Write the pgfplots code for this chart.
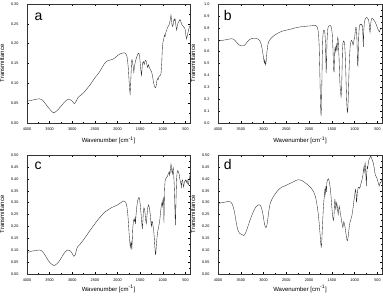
\documentclass[border=0pt]{standalone}
\usepackage{fontspec}
\setmainfont{Liberation Sans}
\usepackage{pgfplots}
\pgfplotsset{compat=1.18}
\tikzset{plab/.style={font=\fontsize{14}{14}\selectfont, anchor=base west, inner sep=0pt}}
\pgfplotsset{
  spec/.style={black!85, line width=0.35pt, mark=none},
  ftir/.style={
    scale only axis,
    height=119pt,
    x dir=reverse,
    xmin=400, xmax=4000,
    xtick={500,1000,...,4000},
    minor x tick num=1,
    minor y tick num=1,
    tick align=inside,
    major tick length=2.2pt,
    minor tick length=1.3pt,
    every tick/.style={black, line width=0.35pt},
    axis line style={line width=0.45pt, black!80},
    tick label style={font=\fontsize{3.8}{4}\selectfont},
    /pgf/number format/assume math mode=true,
    xticklabel style={/pgf/number format/1000 sep={}, yshift=-1.5pt},
    yticklabel style={/pgf/number format/fixed, /pgf/number format/fixed zerofill, xshift=-5pt},
    label style={font=\fontsize{6}{6}\selectfont},
    xlabel={Wavenumber [cm\textsuperscript{-1}]},
    ylabel={Transmittance},
    xlabel style={at={(axis description cs:0.5,-0.088)}, anchor=north},
    ylabel style={at={(axis description cs:-0.118,0.5)}, anchor=south},
  },
  lowrow/.style={xlabel style={at={(axis description cs:0.5,-0.086)}, anchor=north, inner sep=1pt}},
}
\begin{document}
\begin{tikzpicture}
\useasboundingbox (0,0) rectangle (383pt,295pt);
% ---------------- a ----------------
\begin{axis}[ftir, at={(27pt,172pt)}, anchor=south west, width=163pt,
  ymin=0, ymax=0.30, ytick={0,0.05,...,0.301},
  yticklabel style={/pgf/number format/precision=2}]
\addplot[spec] coordinates {
(4000,0.055) (3900,0.057) (3800,0.060) (3720,0.061) (3660,0.058) (3600,0.050) (3550,0.042) (3500,0.035) (3450,0.029) (3420,0.026) (3380,0.027) (3320,0.033) (3250,0.042) (3180,0.052) (3120,0.058) (3090,0.060) (3050,0.059) (3000,0.055) (2960,0.049) (2940,0.050) (2910,0.056) (2880,0.063) (2840,0.068) (2800,0.071) (2760,0.075) (2700,0.083) (2650,0.090) (2600,0.097) (2550,0.106) (2500,0.114) (2450,0.121) (2400,0.129) (2350,0.138) (2300,0.148) (2250,0.155) (2200,0.158) (2150,0.159) (2100,0.161) (2050,0.165) (2000,0.170) (1950,0.174) (1900,0.176) (1860,0.177) (1830,0.176) (1800,0.171) (1780,0.160) (1760,0.135) (1745,0.105) (1730,0.080) (1722,0.074) (1712,0.095) (1700,0.130) (1690,0.155) (1680,0.160) (1665,0.150) (1650,0.138) (1640,0.128) (1630,0.140) (1615,0.150) (1600,0.158) (1580,0.165) (1560,0.172) (1540,0.176) (1525,0.175) (1510,0.165) (1495,0.145) (1480,0.128) (1470,0.120) (1460,0.135) (1450,0.150) (1430,0.155) (1410,0.148) (1395,0.155) (1380,0.158) (1365,0.155) (1350,0.145) (1335,0.140) (1320,0.147) (1305,0.142) (1290,0.138) (1270,0.133) (1250,0.130) (1230,0.120) (1210,0.105) (1190,0.095) (1175,0.090) (1160,0.089) (1145,0.095) (1130,0.108) (1115,0.112) (1100,0.110) (1090,0.116) (1075,0.118) (1060,0.120) (1040,0.124) (1025,0.150) (1010,0.190) (995,0.205) (980,0.212) (965,0.222) (950,0.218) (935,0.228) (915,0.234) (900,0.240) (880,0.244) (860,0.248) (845,0.255) (830,0.265) (820,0.272) (810,0.262) (800,0.250) (790,0.245) (780,0.243) (770,0.250) (760,0.258) (750,0.262) (740,0.258) (730,0.262) (720,0.255) (705,0.240) (693,0.234) (680,0.245) (665,0.252) (650,0.255) (635,0.258) (620,0.261) (600,0.255) (580,0.248) (560,0.245) (540,0.242) (520,0.240) (505,0.235) (490,0.220) (475,0.212) (460,0.220) (445,0.228) (430,0.235) (415,0.242) (400,0.245)
};
\node[plab] at (rel axis cs:0.045,0.865) {a};
\end{axis}
% ---------------- b ----------------
\begin{axis}[ftir, at={(218pt,172pt)}, anchor=south west, width=164pt,
  ymin=0, ymax=1.0, ytick={0,0.1,...,1.01},
  yticklabel style={/pgf/number format/precision=1}]
\addplot[spec] coordinates {
(4000,0.688) (3900,0.695) (3800,0.701) (3720,0.708) (3670,0.706) (3630,0.695) (3590,0.678) (3550,0.660) (3510,0.650) (3470,0.648) (3430,0.650) (3390,0.665) (3350,0.685) (3300,0.703) (3250,0.711) (3180,0.713) (3120,0.705) (3080,0.690) (3050,0.660) (3025,0.610) (3005,0.560) (2990,0.520) (2980,0.505) (2972,0.530) (2962,0.500) (2952,0.488) (2940,0.530) (2925,0.600) (2905,0.660) (2880,0.690) (2850,0.705) (2800,0.725) (2750,0.740) (2700,0.752) (2650,0.762) (2600,0.770) (2550,0.776) (2500,0.780) (2450,0.785) (2400,0.789) (2350,0.795) (2300,0.800) (2250,0.804) (2200,0.807) (2150,0.810) (2100,0.812) (2050,0.814) (2000,0.815) (1950,0.817) (1900,0.819) (1870,0.821) (1840,0.815) (1815,0.800) (1795,0.760) (1780,0.660) (1768,0.480) (1755,0.250) (1745,0.110) (1738,0.060) (1730,0.120) (1720,0.330) (1710,0.580) (1700,0.720) (1690,0.765) (1678,0.780) (1665,0.778) (1652,0.750) (1642,0.680) (1632,0.520) (1625,0.420) (1618,0.500) (1608,0.680) (1595,0.780) (1580,0.808) (1560,0.818) (1540,0.820) (1520,0.812) (1505,0.790) (1490,0.740) (1478,0.640) (1468,0.520) (1460,0.440) (1452,0.430) (1445,0.520) (1437,0.610) (1428,0.640) (1420,0.600) (1412,0.620) (1404,0.660) (1395,0.640) (1388,0.600) (1380,0.660) (1372,0.720) (1362,0.700) (1352,0.620) (1342,0.540) (1332,0.420) (1322,0.320) (1310,0.260) (1298,0.220) (1288,0.260) (1278,0.420) (1268,0.600) (1258,0.670) (1245,0.690) (1232,0.685) (1220,0.660) (1208,0.580) (1196,0.450) (1185,0.300) (1175,0.180) (1165,0.110) (1156,0.090) (1148,0.130) (1138,0.250) (1125,0.420) (1112,0.560) (1100,0.640) (1085,0.680) (1070,0.695) (1058,0.690) (1045,0.668) (1035,0.655) (1025,0.675) (1012,0.700) (1000,0.720) (990,0.760) (980,0.800) (970,0.805) (960,0.780) (950,0.700) (942,0.580) (935,0.490) (928,0.480) (920,0.600) (912,0.720) (900,0.800) (888,0.825) (872,0.830) (858,0.822) (845,0.830) (832,0.815) (822,0.770) (815,0.700) (810,0.640) (805,0.700) (798,0.790) (788,0.840) (775,0.865) (760,0.880) (745,0.885) (730,0.886) (715,0.880) (700,0.870) (688,0.850) (678,0.820) (670,0.780) (663,0.760) (656,0.790) (646,0.840) (635,0.870) (620,0.880) (605,0.878) (590,0.870) (575,0.862) (560,0.855) (545,0.845) (530,0.830) (515,0.815) (500,0.800) (485,0.785) (470,0.775) (458,0.765) (448,0.775) (438,0.790) (425,0.800) (410,0.795) (400,0.790)
};
\node[plab] at (rel axis cs:0.035,0.865) {b};
\end{axis}
% ---------------- c ----------------
\begin{axis}[ftir, lowrow, at={(27pt,21pt)}, anchor=south west, width=163pt,
  ymin=0, ymax=0.50, ytick={0,0.05,...,0.501},
  yticklabel style={/pgf/number format/precision=2}]
\addplot[spec] coordinates {
(4000,0.090) (3900,0.096) (3800,0.099) (3730,0.101) (3680,0.098) (3640,0.090) (3600,0.079) (3560,0.066) (3520,0.054) (3480,0.045) (3440,0.039) (3410,0.036) (3380,0.037) (3340,0.043) (3300,0.051) (3260,0.062) (3220,0.075) (3180,0.087) (3140,0.096) (3100,0.101) (3060,0.099) (3030,0.094) (3000,0.086) (2980,0.078) (2965,0.074) (2950,0.078) (2935,0.080) (2915,0.095) (2895,0.110) (2870,0.117) (2840,0.122) (2800,0.132) (2770,0.139) (2720,0.152) (2670,0.166) (2620,0.180) (2570,0.193) (2520,0.206) (2470,0.219) (2420,0.231) (2370,0.242) (2320,0.253) (2270,0.262) (2220,0.268) (2175,0.274) (2120,0.280) (2060,0.285) (2000,0.290) (1950,0.297) (1900,0.303) (1865,0.307) (1840,0.305) (1815,0.300) (1795,0.285) (1775,0.255) (1760,0.215) (1745,0.170) (1730,0.135) (1718,0.112) (1708,0.125) (1700,0.140) (1692,0.118) (1685,0.102) (1675,0.140) (1665,0.190) (1650,0.220) (1640,0.228) (1628,0.222) (1615,0.235) (1605,0.210) (1595,0.240) (1580,0.275) (1560,0.305) (1540,0.318) (1525,0.322) (1510,0.310) (1495,0.285) (1480,0.250) (1465,0.215) (1452,0.190) (1440,0.225) (1430,0.262) (1418,0.278) (1405,0.275) (1392,0.255) (1380,0.228) (1365,0.212) (1350,0.245) (1335,0.275) (1320,0.290) (1305,0.285) (1290,0.268) (1275,0.245) (1260,0.210) (1250,0.200) (1240,0.222) (1228,0.218) (1215,0.200) (1200,0.180) (1188,0.150) (1175,0.110) (1165,0.085) (1158,0.082) (1150,0.100) (1140,0.130) (1125,0.160) (1110,0.182) (1095,0.195) (1080,0.210) (1065,0.230) (1050,0.260) (1035,0.285) (1020,0.300) (1008,0.285) (998,0.310) (990,0.320) (982,0.300) (975,0.215) (968,0.300) (960,0.360) (950,0.392) (935,0.400) (920,0.405) (900,0.410) (885,0.418) (870,0.425) (860,0.430) (850,0.415) (840,0.425) (830,0.445) (820,0.462) (810,0.450) (800,0.430) (790,0.420) (780,0.440) (770,0.447) (760,0.420) (750,0.380) (740,0.330) (730,0.250) (722,0.205) (715,0.260) (705,0.340) (695,0.400) (685,0.425) (670,0.435) (655,0.428) (640,0.420) (625,0.400) (610,0.385) (600,0.380) (590,0.365) (580,0.390) (565,0.395) (550,0.375) (540,0.365) (525,0.385) (510,0.392) (495,0.395) (480,0.385) (465,0.395) (450,0.380) (435,0.375) (420,0.395) (405,0.410) (400,0.415)
};
\node[plab] at (rel axis cs:0.045,0.88) {c};
\end{axis}
% ---------------- d ----------------
\begin{axis}[ftir, lowrow, at={(218pt,21pt)}, anchor=south west, width=164pt,
  ymin=0, ymax=0.50, ytick={0,0.05,...,0.501},
  yticklabel style={/pgf/number format/precision=2}]
\addplot[spec] coordinates {
(4000,0.297) (3900,0.300) (3820,0.303) (3770,0.305) (3720,0.302) (3690,0.295) (3665,0.282) (3640,0.262) (3615,0.235) (3590,0.205) (3560,0.183) (3530,0.172) (3500,0.168) (3470,0.165) (3440,0.162) (3415,0.165) (3390,0.175) (3360,0.190) (3330,0.208) (3290,0.230) (3250,0.250) (3210,0.268) (3170,0.281) (3130,0.289) (3100,0.291) (3070,0.288) (3045,0.278) (3020,0.258) (3000,0.235) (2980,0.210) (2965,0.200) (2950,0.195) (2935,0.198) (2920,0.212) (2900,0.240) (2880,0.270) (2860,0.292) (2840,0.305) (2800,0.320) (2760,0.332) (2700,0.348) (2650,0.358) (2600,0.365) (2550,0.369) (2500,0.373) (2450,0.378) (2400,0.382) (2350,0.387) (2300,0.392) (2250,0.396) (2200,0.395) (2150,0.392) (2100,0.385) (2050,0.378) (2000,0.370) (1950,0.360) (1900,0.345) (1860,0.325) (1830,0.295) (1800,0.255) (1780,0.215) (1760,0.170) (1745,0.130) (1735,0.113) (1725,0.125) (1712,0.180) (1700,0.230) (1688,0.275) (1675,0.310) (1662,0.330) (1655,0.358) (1648,0.330) (1640,0.350) (1630,0.370) (1620,0.345) (1610,0.385) (1595,0.395) (1580,0.400) (1565,0.395) (1550,0.380) (1535,0.360) (1520,0.330) (1505,0.290) (1490,0.255) (1478,0.235) (1465,0.225) (1455,0.240) (1445,0.285) (1435,0.315) (1425,0.300) (1415,0.270) (1405,0.285) (1395,0.300) (1385,0.290) (1372,0.265) (1362,0.250) (1350,0.270) (1340,0.285) (1328,0.275) (1315,0.255) (1300,0.240) (1285,0.220) (1270,0.205) (1258,0.195) (1248,0.210) (1238,0.220) (1225,0.210) (1210,0.195) (1195,0.175) (1180,0.155) (1168,0.143) (1158,0.140) (1148,0.148) (1135,0.170) (1120,0.195) (1105,0.215) (1090,0.225) (1075,0.235) (1060,0.245) (1045,0.265) (1030,0.285) (1015,0.310) (1000,0.330) (990,0.345) (980,0.355) (970,0.340) (960,0.300) (952,0.315) (940,0.345) (925,0.360) (910,0.365) (895,0.360) (880,0.365) (865,0.378) (850,0.385) (835,0.400) (820,0.415) (810,0.430) (800,0.445) (790,0.430) (780,0.455) (770,0.465) (760,0.440) (750,0.400) (742,0.370) (735,0.420) (725,0.450) (715,0.445) (705,0.460) (690,0.478) (675,0.485) (660,0.490) (648,0.496) (635,0.490) (620,0.482) (605,0.475) (590,0.465) (575,0.450) (560,0.430) (545,0.415) (530,0.410) (515,0.405) (500,0.395) (485,0.385) (470,0.375) (460,0.370) (450,0.378) (440,0.385) (425,0.382) (410,0.395) (400,0.400)
};
\node[plab] at (rel axis cs:0.035,0.88) {d};
\end{axis}
\end{tikzpicture}
\end{document}
